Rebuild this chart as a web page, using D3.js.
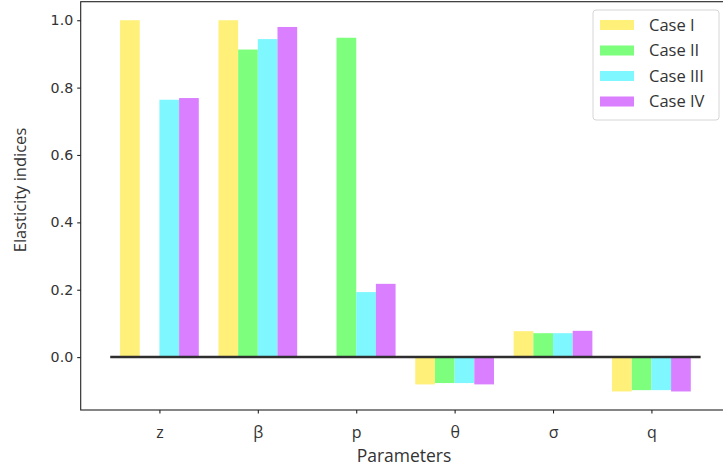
<!DOCTYPE html>
<html>
<head>
<meta charset="utf-8">
<script src="https://cdn.jsdelivr.net/npm/d3@7"></script>
<style>
  html, body { margin: 0; padding: 0; background: #fff; }
  svg { display: block; }
</style>
</head>
<body>
<svg id="chart" width="723" height="472"></svg>
<script>
// Elasticity indices of the model parameters, four cases side by side
const parameters = ["z", "β", "p", "θ", "σ", "q"];
const caseNames = ["Case I", "Case II", "Case III", "Case IV"];
const caseColors = ["#fff07a", "#7dff7d", "#7ff7ff", "#d97fff"];
const caseI   = [1.000, 1.000, 0.000, -0.081, 0.077, -0.102];
const caseII  = [0.000, 0.913, 0.948, -0.077, 0.071, -0.098];
const caseIII = [0.764, 0.944, 0.193, -0.077, 0.071, -0.098];
const caseIV  = [0.769, 0.980, 0.2175, -0.081, 0.078, -0.102];
const yTicks = [0.0, 0.2, 0.4, 0.6, 0.8, 1.0];

const series = [caseI, caseII, caseIII, caseIV];
const barWidth = 0.2;

const svg = d3.select("#chart");
const plot = { left: 80.7, top: 1.7, bottom: 410 };

const x = d3.scaleLinear().domain([-0.8, 5.8]).range([plot.left, plot.left + 6.6 * 98.4]);
const y = d3.scaleLinear().domain([-0.157, 1.055]).range([plot.bottom, plot.top]);

// bars
series.forEach((vals, k) => {
  const offset = (k - 1.5) * barWidth;
  svg.append("g")
    .selectAll("rect")
    .data(vals.map((v, i) => ({ v, i })))
    .join("rect")
    .attr("x", d => x(d.i + offset - barWidth / 2))
    .attr("width", d => x(d.i + offset + barWidth / 2) - x(d.i + offset - barWidth / 2))
    .attr("y", d => y(Math.max(0, d.v)))
    .attr("height", d => Math.abs(y(d.v) - y(0)))
    .attr("fill", caseColors[k]);
});

// zero reference line
svg.append("line")
  .attr("x1", x(-0.5)).attr("x2", x(5.5))
  .attr("y1", y(0)).attr("y2", y(0))
  .attr("stroke", "#2e2e2e").attr("stroke-width", 2.5);

// frame
svg.append("rect")
  .attr("x", plot.left).attr("y", plot.top)
  .attr("width", x(5.8) - plot.left).attr("height", plot.bottom - plot.top)
  .attr("fill", "none").attr("stroke", "#222").attr("stroke-width", 1.1);

// y axis
const yAxis = svg.append("g")
  .attr("transform", `translate(${plot.left},0)`)
  .call(d3.axisLeft(y).tickValues(yTicks).tickFormat(d3.format(".1f")).tickSizeOuter(0).tickSize(3.5).tickPadding(4));
yAxis.select(".domain").remove();
yAxis.selectAll("line").attr("stroke", "#222").attr("stroke-width", 1.1);
yAxis.selectAll("text")
  .attr("font-family", "DejaVu Sans").attr("font-size", 14.2).attr("fill", "#333");

// x axis
const xAxis = svg.append("g")
  .attr("transform", `translate(0,${plot.bottom})`)
  .call(d3.axisBottom(x).tickValues(d3.range(parameters.length)).tickFormat(i => parameters[i]).tickSizeOuter(0).tickSize(3.5).tickPadding(13));
xAxis.select(".domain").remove();
xAxis.selectAll("line").attr("stroke", "#222").attr("stroke-width", 1.1);
xAxis.selectAll("text")
  .attr("font-family", "Open Sans").attr("font-size", 16).attr("fill", "#333");

// axis titles
svg.append("text")
  .attr("x", 404).attr("y", 462)
  .attr("text-anchor", "middle")
  .attr("font-family", "Open Sans").attr("font-size", 17.5).attr("fill", "#333")
  .text("Parameters");

svg.append("text")
  .attr("transform", "translate(26,190) rotate(-90)")
  .attr("text-anchor", "middle")
  .attr("font-family", "Open Sans").attr("font-size", 16.5).attr("fill", "#333")
  .text("Elasticity indices");

// legend
const legend = svg.append("g").attr("transform", "translate(593,10)");
legend.append("rect")
  .attr("width", 126).attr("height", 110).attr("rx", 3)
  .attr("fill", "#fff").attr("fill-opacity", 0.8)
  .attr("stroke", "#d6d6d6").attr("stroke-width", 1);
caseNames.forEach((name, k) => {
  const cy = 15 + k * 25.5;
  legend.append("rect")
    .attr("x", 7).attr("y", cy - 5).attr("width", 34).attr("height", 10)
    .attr("fill", caseColors[k]);
  legend.append("text")
    .attr("x", 56).attr("y", cy).attr("dy", "0.36em")
    .attr("font-family", "Open Sans").attr("font-size", 16.5).attr("fill", "#333")
    .text(name);
});
</script>
</body>
</html>
